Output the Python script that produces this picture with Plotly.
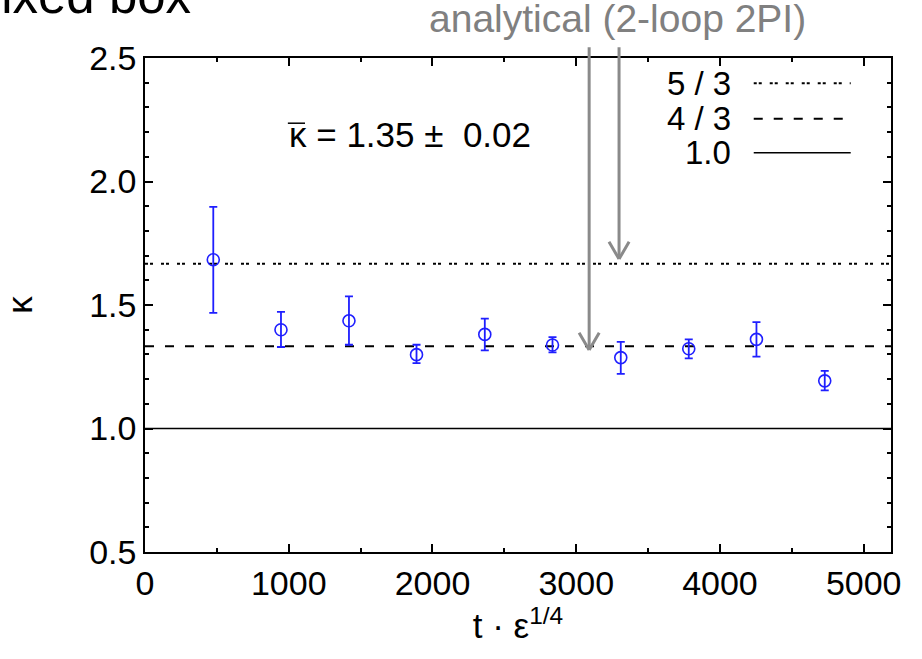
import plotly.graph_objects as go

# Measured growth exponent kappa versus t * eps^(1/4)
t_scaled = [475, 946, 1419, 1889, 2364, 2835, 3310, 3783, 4254, 4729]
kappa = [1.683, 1.400, 1.436, 1.299, 1.381, 1.338, 1.287, 1.323, 1.361, 1.193]
kappa_hi = [1.897, 1.472, 1.535, 1.339, 1.445, 1.370, 1.351, 1.361, 1.431, 1.233]
kappa_lo = [1.468, 1.330, 1.339, 1.265, 1.316, 1.308, 1.221, 1.284, 1.291, 1.154]

# Reference exponents
ref_labels = ["5 / 3", "4 / 3", "1.0"]
ref_values = [5 / 3, 4 / 3, 1.0]
ref_dash = ["3px,2px,3px,8px", "9px,11px", "solid"]
ref_width = [2, 2, 1.5]

# Analytical (2-loop 2PI) predictions marked by arrows
arrow_x = [3090, 3298]
arrow_tip = [1.318, 1.686]
arrow_top = 2.546

X_RANGE = [0, 5190]
Y_RANGE = [0.5, 2.5]
FONT = "Liberation Sans, Arial, sans-serif"
BLUE = "#1f1fff"
GRAY = "#8a8a8a"

err_plus = [h - k for h, k in zip(kappa_hi, kappa)]
err_minus = [k - l for k, l in zip(kappa, kappa_lo)]

fig = go.Figure()

# horizontal reference lines
for val, dash, w in zip(ref_values, ref_dash, ref_width):
    fig.add_shape(type="line", xref="x domain", yref="y", x0=0, x1=1, y0=val, y1=val,
                  line=dict(color="black", width=w, dash=dash), layer="below")

fig.add_trace(go.Scatter(
    x=t_scaled, y=kappa, mode="markers",
    marker=dict(symbol="circle-open", size=12, color=BLUE, line=dict(width=1.6, color=BLUE)),
    error_y=dict(type="data", array=err_plus, arrayminus=err_minus, symmetric=False,
                 color=BLUE, thickness=1.8, width=4),
    showlegend=False,
))

# key: labels on the left, line samples on the right
key_y = [0.949, 0.877, 0.808]
for lab, dash, w, ky in zip(ref_labels, ref_dash, ref_width, key_y):
    fig.add_annotation(xref="paper", yref="paper", x=0.788, y=ky, text=lab, showarrow=False,
                       xanchor="right", yanchor="middle", font=dict(family=FONT, size=33, color="black"))
    fig.add_shape(type="line", xref="paper", yref="paper", x0=0.816, x1=0.946, y0=ky, y1=ky,
                  line=dict(color="black", width=w, dash=dash))

# arrows: shaft plus open V head
for ax_, tip in zip(arrow_x, arrow_tip):
    fig.add_annotation(x=ax_, y=tip, axref="x", ayref="y", ax=ax_, ay=arrow_top, text="",
                       showarrow=True, arrowhead=0, arrowwidth=3, arrowcolor=GRAY,
                       borderpad=0, standoff=0, startstandoff=0)
    for side in (-72, 72):
        fig.add_annotation(x=ax_, y=tip, axref="x", ayref="y", ax=ax_ + side, ay=tip + 0.072,
                           text="", showarrow=True, arrowhead=0, arrowwidth=3, arrowcolor=GRAY,
                           borderpad=0, standoff=0, startstandoff=0)

fig.add_annotation(xref="paper", yref="paper", x=0.633, y=1.079, text="analytical (2-loop 2PI)",
                   showarrow=False, xanchor="center", yanchor="middle",
                   font=dict(family=FONT, size=39, color="#808080"))

# mean value, with an overbar on kappa
fig.add_annotation(xref="paper", yref="paper", x=0.19, y=0.845, text="κ = 1.35 ±  0.02",
                   showarrow=False, xanchor="left", yanchor="middle",
                   font=dict(family=FONT, size=35, color="black"))
fig.add_shape(type="line", xref="paper", yref="paper", x0=0.1915, x1=0.2145, y0=0.868, y1=0.868,
              line=dict(color="black", width=1.5))

fig.add_annotation(xref="paper", yref="paper", x=0.064, y=1.126, text="fixed box",
                   showarrow=False, xanchor="right", yanchor="middle",
                   font=dict(family=FONT, size=51, color="black"))

axis_common = dict(showline=True, linecolor="black", linewidth=1.5, mirror="ticks",
                   ticks="inside", ticklen=8, tickwidth=1.5, tickcolor="black",
                   showgrid=False, zeroline=False, automargin=False,
                   tickfont=dict(family=FONT, size=34, color="black"))

fig.update_xaxes(range=X_RANGE, dtick=1000, tick0=0,
                 minor=dict(dtick=500, ticks="inside", ticklen=4, tickcolor="black", showgrid=False),
                 title=dict(text="t · ε<sup>1/4</sup>", font=dict(family=FONT, size=35, color="black"),
                            standoff=10),
                 **axis_common)
fig.update_yaxes(range=Y_RANGE, dtick=0.5, tick0=0.5, tickformat=".1f",
                 minor=dict(dtick=0.1, ticks="inside", ticklen=4, tickcolor="black", showgrid=False),
                 title=dict(text="κ", font=dict(family=FONT, size=35, color="black"), standoff=60),
                 **axis_common)

fig.update_layout(
    width=922, height=659,
    margin=dict(l=145, r=31, t=58, b=107),
    paper_bgcolor="white", plot_bgcolor="white",
    font=dict(family=FONT),
)

fig.write_html("out.html")
